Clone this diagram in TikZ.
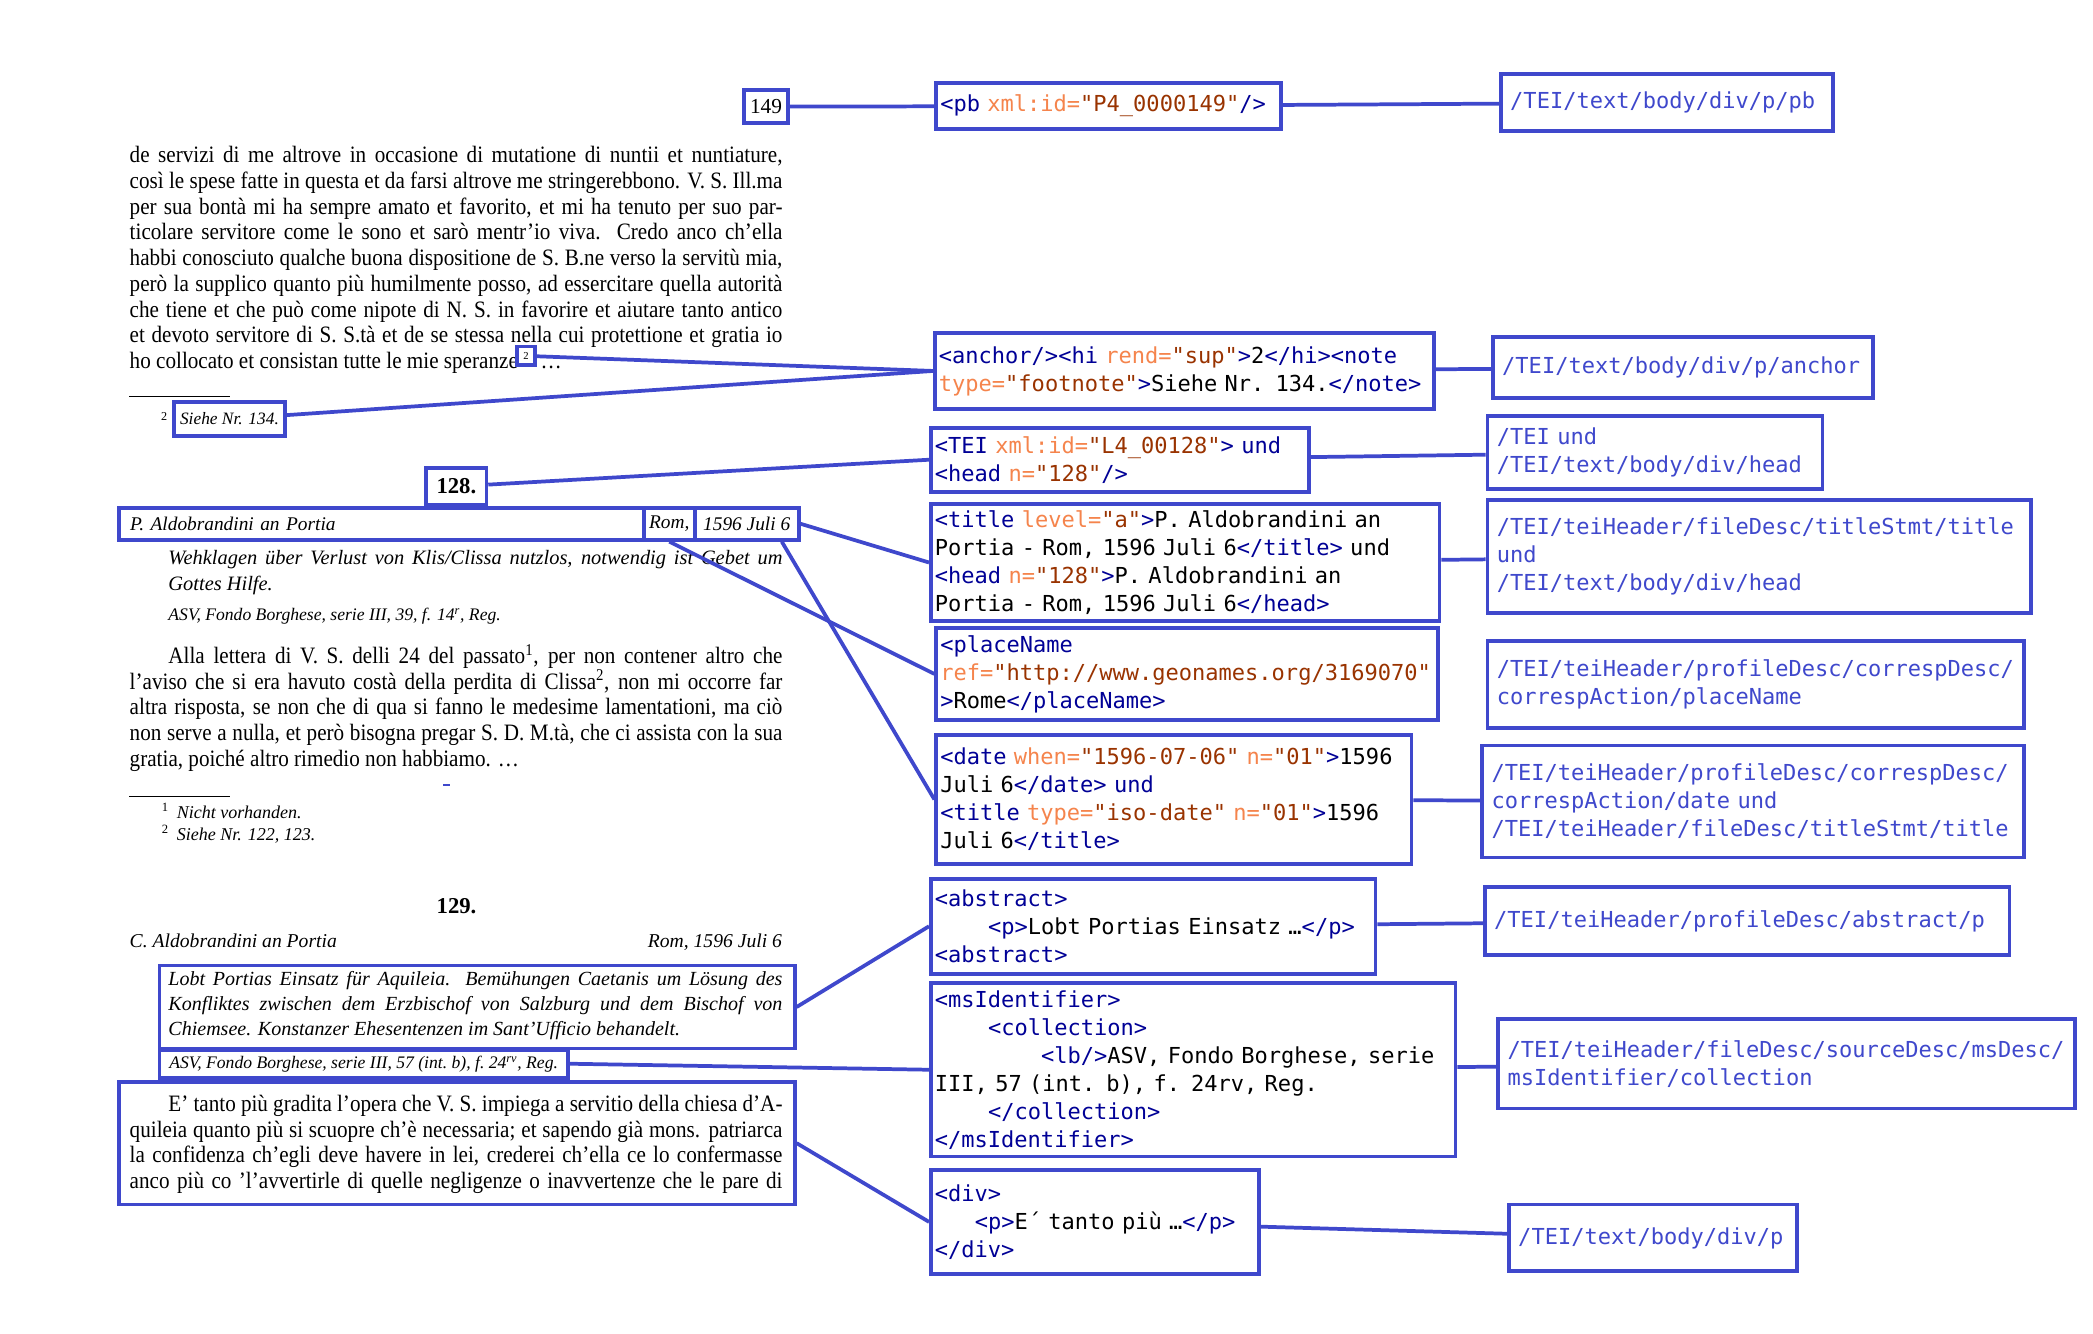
\documentclass[tikz,border=0pt]{standalone}
\usepackage{fontspec}
\setmainfont{Liberation Serif}
\newfontfamily\bodyfont[FakeStretch=0.9]{Liberation Serif}
\newfontfamily\codefont{DejaVu Sans Mono}
\definecolor{teiBox}{RGB}{63,72,204}
\definecolor{teiTag}{RGB}{0,0,150}
\definecolor{teiAttr}{RGB}{245,132,76}
\definecolor{teiVal}{RGB}{153,51,0}
\usetikzlibrary{positioning}
\newcommand{\tg}[1]{\textcolor{teiTag}{#1}}
\newcommand{\an}[1]{\textcolor{teiAttr}{#1}}
\newcommand{\av}[1]{\textcolor{teiVal}{#1}}

\begin{document}
\begin{tikzpicture}[x=1pt, y=-1pt,
  codebox/.style={draw=teiBox, line width=2.8pt, anchor=north west, align=left,
                  inner xsep=3pt, inner ysep=1pt, font={\codefont\fontsize{16.5}{21}\selectfont}},
  pathbox/.style={codebox, text=teiBox, inner xsep=7pt},
  markbox/.style={draw=teiBox, line width=2.8pt, anchor=north west, inner sep=0pt},
  link/.style={teiBox, line width=2.8pt},
  body/.style={anchor=base west, inner sep=0pt, font={\bodyfont\fontsize{17.6}{19.25}\selectfont}},
  sz/.style 2 args={minimum width=#1pt, minimum height=#2pt}
]
  \fill[white] (0,0) rectangle (1568,999);
  \useasboundingbox (0,0) rectangle (1568,999);

  % printed edition
  \node[markbox, sz={33}{25}, font={\fontsize{16}{16}\selectfont}] (pg) at (556,66) {149};

  \foreach \txt [count=\i] in {
    {de servizi di me altrove in occasione di mutatione di nuntii et nuntiature,},
    {così le spese fatte in questa et da farsi altrove me stringerebbono. V. S. Ill.ma},
    {per sua bontà mi ha sempre amato et favorito, et mi ha tenuto per suo par-},
    {ticolare servitore come le sono et sarò mentr’io viva. Credo anco ch’ella},
    {habbi conosciuto qualche buona dispositione de S. B.ne verso la servitù mia,},
    {però la supplico quanto più humilmente posso, ad essercitare quella autorità},
    {che tiene et che può come nipote di N. S. in favorire et aiutare tanto antico},
    {et devoto servitore di S. S.tà et de se stessa nella cui protettione et gratia io}}
    \node[body] (pa\i) at (97,{122+19.25*(\i-1)}) {\hbox to 489pt{\txt}};
  \node[body] (pa9) at (97,276) {ho collocato et consistan tutte le mie speranze};
  \node[markbox, sz={13}{14}, anchor=south west, font={\fontsize{8}{8}\selectfont}] (fnA)
    at ([xshift=-2pt,yshift=1pt]pa9.base east) {2};
  \node[body] (pa9b) at (fnA.east |- pa9.base) {\,…};

  \draw[line width=0.8pt] (97,297) -- (172,297);
  \node[markbox, sz={83}{25}, font={\itshape\fontsize{13}{13}\selectfont}] (fn2) at (129,300) {Siehe Nr. 134.};
  \node[left=3pt of fn2, inner sep=0pt, font={\fontsize{13}{13}\selectfont}] (fn2no) {\textsuperscript{2}};

  \node[markbox, sz={45}{28}, font={\bfseries\fontsize{17}{17}\selectfont}] (no128) at (318,349) {128.};
  \node[markbox, sz={393}{24}, text width=377pt, inner xsep=8pt, align=left,
        font={\itshape\fontsize{14.5}{14.5}\selectfont}] (hdP) at (88,379) {P. Aldobrandini an Portia};
  \node[markbox, sz={38}{24}, font={\itshape\fontsize{14.5}{14.5}\selectfont}] (hdRom) at (481,379) {Rom,};
  \node[markbox, sz={78}{24}, font={\itshape\fontsize{14.5}{14.5}\selectfont}] (hdDate) at (519,379) {1596 Juli 6};

  \node[body, font={\itshape\fontsize{15.3}{19}\selectfont}] (reg1) at (126,423)
    {\hbox to 460pt{Wehklagen über Verlust von Klis/Clissa nutzlos, notwendig ist Gebet um}};
  \node[body, font={\itshape\fontsize{15.3}{19}\selectfont}] (reg2) at (126,442) {Gottes Hilfe.};
  \node[body, font={\itshape\fontsize{13.2}{13.2}\selectfont}] (src1) at (126,465)
    {ASV, Fondo Borghese, serie III, 39, f. 14\textsuperscript{r}, Reg.};

  \foreach \txt [count=\i] in {
    {\hspace*{29pt}Alla lettera di V. S. delli 24 del passato\textsuperscript{1}, per non contener altro che},
    {l’aviso che si era havuto costà della perdita di Clissa\textsuperscript{2}, non mi occorre far},
    {altra risposta, se non che di qua si fanno le medesime lamentationi, ma ciò},
    {non serve a nulla, et però bisogna pregar S. D. M.tà, che ci assista con la sua},
    {gratia, poiché altro rimedio non habbiamo. …\hfil}}
    \node[body] (pb\i) at (97,{497+19.25*(\i-1)}) {\hbox to 489pt{\txt}};

  \draw[teiBox, line width=1pt] (332,588) -- (337,588);
  \draw[line width=0.8pt] (97,597) -- (172,597);
  \node[body, font={\fontsize{13.5}{13.5}\selectfont}] (fn1b) at (121,613)
    {\textsuperscript{1}\hspace{6pt}\textit{Nicht vorhanden.}};
  \node[body, font={\fontsize{13.5}{13.5}\selectfont}] (fn2b) at (121,630)
    {\textsuperscript{2}\hspace{6pt}\textit{Siehe Nr. 122, 123.}};

  \node[inner sep=0pt, font={\bfseries\fontsize{17}{17}\selectfont}] (no129) at (342,679) {129.};
  \node[body, font={\itshape\fontsize{14.7}{14.7}\selectfont}] (hd2P) at (97,710) {C. Aldobrandini an Portia};
  \node[body, anchor=base east, font={\itshape\fontsize{14.7}{14.7}\selectfont}] (hd2Date) at (586,710) {Rom, 1596 Juli 6};

  \node[markbox, sz={476}{62}] (absL) at (118,722) {};
  \foreach \txt [count=\i] in {
    {Lobt Portias Einsatz für Aquileia. Bemühungen Caetanis um Lösung des},
    {Konfliktes zwischen dem Erzbischof von Salzburg und dem Bischof von},
    {Chiemsee. Konstanzer Ehesentenzen im Sant’Ufficio behandelt.\hfil}}
    \node[body, font={\itshape\fontsize{15}{19}\selectfont}] (ab\i) at (126,{738+19*(\i-1)}) {\hbox to 460pt{\txt}};
  \node[markbox, sz={306}{21}, font={\itshape\fontsize{13.2}{13.2}\selectfont}] (srcL) at (118,785)
    {ASV, Fondo Borghese, serie III, 57 (int.~b), f.~24\textsuperscript{rv}, Reg.};
  \node[markbox, sz={506}{92}] (parL) at (88,809) {};
  \foreach \txt [count=\i] in {
    {\hspace*{29pt}E’ tanto più gradita l’opera che V. S. impiega a servitio della chiesa d’A-},
    {quileia quanto più si scuopre ch’è necessaria; et sapendo già mons. patriarca},
    {la confidenza ch’egli deve havere in lei, crederei ch’ella ce lo confermasse},
    {anco più co ’l’avvertirle di quelle negligenze o inavvertenze che le pare di}}
    \node[body] (pc\i) at (97,{833+19*(\i-1)}) {\hbox to 489pt{\txt}};

  % TEI encoding
  \node[codebox, sz={258}{34}, text width=252pt] (cPb) at (700,61)
    {\tg{<pb} \an{xml:id=}\av{"P4\_0000149"}\tg{/>}};
  \node[codebox, sz={374}{57}, text width=368pt] (cAnchor) at (699,248)
    {\tg{<anchor/><hi} \an{rend=}\av{"sup"}\tg{>}2\tg{</hi><note}\\
     \mbox{\an{type=}\av{"footnote"}\tg{>}Siehe Nr. 134.\tg{</note>}}};
  \node[codebox, sz={283}{48}, text width=277pt] (cTei) at (696,319)
    {\tg{<TEI} \an{xml:id=}\av{"L4\_00128"}\tg{>} \tg{und}\\
     \tg{<head} \an{n=}\av{"128"}\tg{/>}};
  \node[codebox, sz={381}{88}, text width=375pt] (cTitle) at (696,376)
    {\tg{<title} \an{level=}\av{"a"}\tg{>}P. Aldobrandini an\\
     \mbox{Portia - Rom, 1596 Juli 6\tg{</title>} und}\\
     \tg{<head} \an{n=}\av{"128"}\tg{>}P. Aldobrandini an\\
     Portia - Rom, 1596 Juli 6\tg{</head>}};
  \node[codebox, sz={376}{69}, text width=370pt] (cPlace) at (700,469)
    {\tg{<placeName}\\
     \an{ref=}\av{"http://www.geonames.org/3169070"}\\
     \tg{>}Rome\tg{</placeName>}};
  \node[codebox, sz={356}{97}, text width=350pt] (cDate) at (700,549)
    {\mbox{\tg{<date} \an{when=}\av{"1596-07-06"} \an{n=}\av{"01"}\tg{>}1596}\\
     Juli 6\tg{</date>} \tg{und}\\
     \tg{<title} \an{type=}\av{"iso-date"} \an{n=}\av{"01"}\tg{>}1596\\
     Juli 6\tg{</title>}};
  \node[codebox, sz={333}{71}, text width=327pt] (cAbstract) at (696,657)
    {\tg{<abstract>}\\
     \mbox{\hspace*{2.41em}\tg{<p>}Lobt Portias Einsatz …\tg{</p>}}\\
     \tg{<abstract>}};
  \node[codebox, sz={393}{130}, text width=387pt] (cMsId) at (696,735)
    {\tg{<msIdentifier>}\\
     \hspace*{2.41em}\tg{<collection>}\\
     \mbox{\hspace*{4.82em}\tg{<lb/>}ASV, Fondo Borghese, serie}\\
     III, 57 (int. b), f. 24rv, Reg.\\
     \hspace*{2.41em}\tg{</collection>}\\
     \tg{</msIdentifier>}};
  \node[codebox, sz={246}{78}, text width=240pt] (cDiv) at (696,875)
    {\tg{<div>}\\
     \mbox{\hspace*{1.81em}\tg{<p>}E´ tanto più …\tg{</p>}}\\
     \tg{</div>}};

  % XPath
  \node[pathbox, sz={249}{43}, text width=235pt] (xPb) at (1123,54) {/TEI/text/body/div/p/pb};
  \node[pathbox, sz={285}{46}, text width=271pt] (xAnchor) at (1117,251) {/TEI/text/body/div/p/anchor};
  \node[pathbox, sz={251}{55}, text width=237pt] (xHead) at (1113,310) {/TEI und\\ /TEI/text/body/div/head};
  \node[pathbox, sz={407}{85}, text width=393pt] (xTitle) at (1113,373)
    {/TEI/teiHeader/fileDesc/titleStmt/title\\ und\\ /TEI/text/body/div/head};
  \node[pathbox, sz={402}{65}, text width=388pt] (xPlace) at (1113,479)
    {/TEI/teiHeader/profileDesc/correspDesc/\\ correspAction/placeName};
  \node[pathbox, sz={406}{84}, text width=392pt] (xDate) at (1109,557)
    {/TEI/teiHeader/profileDesc/correspDesc/\\ correspAction/date und\\ /TEI/teiHeader/fileDesc/titleStmt/title};
  \node[pathbox, sz={393}{51}, text width=379pt] (xAbstract) at (1111,663) {/TEI/teiHeader/profileDesc/abstract/p};
  \node[pathbox, sz={432}{67}, text width=418pt] (xColl) at (1121,762)
    {/TEI/teiHeader/fileDesc/sourceDesc/msDesc/\\ msIdentifier/collection};
  \node[pathbox, sz={216}{50}, text width=202pt] (xP) at (1129,901) {/TEI/text/body/div/p};

  \draw[link] (pg) -- (cPb);
  \draw[link] (cPb) -- (xPb);
  \draw[link] (fnA) -- (cAnchor.west);
  \draw[link] (fn2) -- (cAnchor.west);
  \draw[link] (cAnchor) -- (xAnchor);
  \draw[link] (no128) -- (cTei.west);
  \draw[link] (cTei) -- (xHead);
  \draw[link] (hdDate.east) -- (cTitle.west);
  \draw[link] (hdRom.south) -- (cPlace.west);
  \draw[link] (hdDate.-27) -- (cDate.west);
  \draw[link] (cTitle) -- (xTitle);
  \draw[link] (cDate) -- (xDate);
  \draw[link] (absL.east) -- (cAbstract.west);
  \draw[link] (cAbstract) -- (xAbstract);
  \draw[link] (srcL.east) -- (cMsId.west);
  \draw[link] (cMsId) -- (xColl);
  \draw[link] (parL.east) -- (cDiv.west);
  \draw[link] (cDiv) -- (xP);
\end{tikzpicture}
\end{document}
